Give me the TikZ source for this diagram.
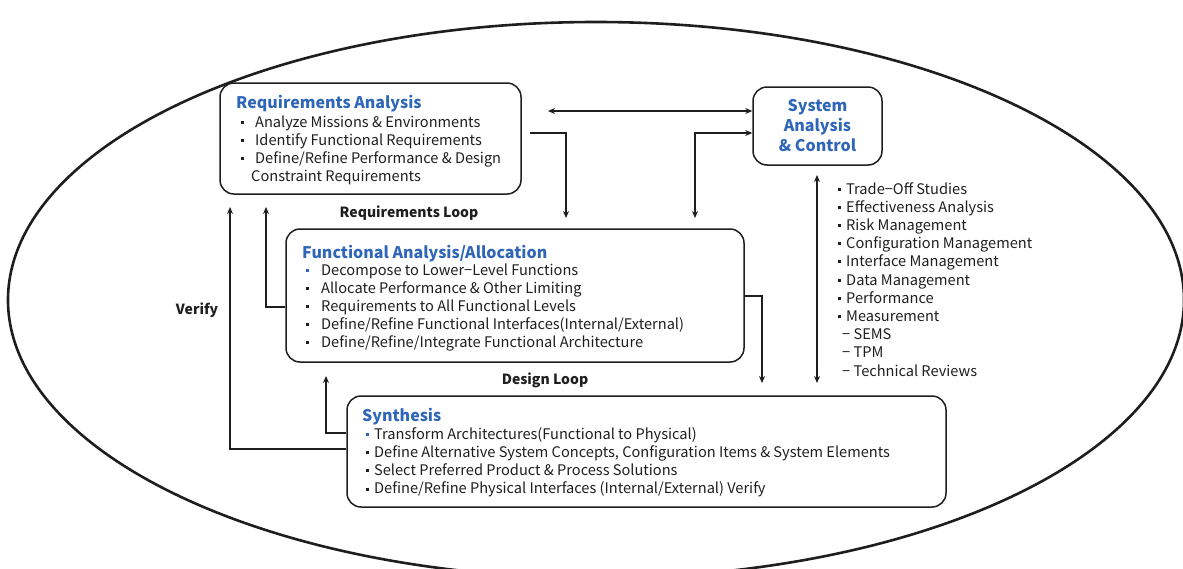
\documentclass[tikz,border=0pt]{standalone}
\usepackage{fontspec}
\setmainfont{Noto Sans CJK KR}
\usetikzlibrary{arrows.meta,calc}

\definecolor{titleblue}{HTML}{2F66B8}
\definecolor{inkgray}{HTML}{1E1E1E}
\newcommand\bsq{\rule[3.4pt]{3pt}{3pt}}
\newcommand\bbsq{\textcolor{titleblue}{\rule[3.4pt]{3pt}{3pt}}}

\tikzset{
  stage/.style={draw=inkgray, line width=1.5pt, rounded corners=14pt, inner sep=0pt},
  heading/.style={font=\fontsize{16}{18}\selectfont\bfseries, text=titleblue, inner sep=0pt, anchor=base west},
  item/.style={font=\fontsize{14.6}{16}\selectfont, text=inkgray, inner sep=0pt, anchor=base west},
  looplabel/.style={font=\fontsize{14}{16}\selectfont\bfseries, text=inkgray, inner sep=0pt, anchor=base},
  flow/.style={draw=inkgray, line width=1.4pt, -{Stealth[length=7pt,width=6pt]}},
  twoway/.style={draw=inkgray, line width=1.4pt, {Stealth[length=7pt,width=6pt]}-{Stealth[length=7pt,width=6pt]}},
}

\begin{document}
\begin{tikzpicture}[x=1pt,y=-1pt]
\useasboundingbox (0,0) rectangle (1183,568);

% outer boundary of the process
\begin{scope}
  \clip (0,0) rectangle (1183,568);
  \draw[inkgray, line width=2.6pt] (596,300) ellipse [x radius=588, y radius=278];
\end{scope}

% the four process stages
\node[stage, minimum width=301pt, minimum height=111pt] (ra) at (370.5,138.5) {};
\node[stage, minimum width=129pt, minimum height=78pt] (sac) at (817.5,126) {};
\node[stage, minimum width=458pt, minimum height=133pt] (fa) at (515,295.5) {};
\node[stage, minimum width=599pt, minimum height=111pt] (sy) at (646.5,451.5) {};

% Requirements Analysis
\node[heading] (rat) at (236,108) {Requirements Analysis};
\foreach \t [count=\i] in {Analyze Missions \& Environments, Identify Functional Requirements, Define/Refine Performance \& Design}
  \node[item] (ra\i) at (241,{127+18*(\i-1)}) {\makebox[14pt][l]{\bsq}\t};
\node[item] (ra4) at (251,181) {Constraint Requirements};

% System Analysis & Control
\node[font=\fontsize{16}{20}\selectfont\bfseries, text=titleblue, align=center, inner sep=0pt] (sact) at (sac.center) {System\\Analysis\\\& Control};

% Functional Analysis/Allocation
\node[heading] (fat) at (302,258) {Functional Analysis/Allocation};
\node[item] (fa1) at (306,275) {\makebox[15pt][l]{\bbsq}Decompose to Lower−Level Functions};
\foreach \t [count=\i from 2] in {Allocate Performance \& Other Limiting, Requirements to All Functional Levels, Define/Refine Functional Interfaces(Internal/External), Define/Refine/Integrate Functional Architecture}
  \node[item] (fa\i) at (306,{275+18.2*(\i-1)}) {\makebox[15pt][l]{\bsq}\t};

% Synthesis
\node[heading] (syt) at (362,421) {Synthesis};
\node[item] (sy1) at (366,439) {\makebox[8pt][l]{\bbsq}Transform Architectures(Functional to Physical)};
\foreach \t [count=\i from 2] in {{Define Alternative System Concepts, Configuration Items \& System Elements}, Select Preferred Product \& Process Solutions, Define/Refine Physical Interfaces (Internal/External) Verify}
  \node[item] (sy\i) at (366,{439+18.3*(\i-1)}) {\makebox[8pt][l]{\bsq}\t};

% System analysis & control activities
\foreach \t [count=\i] in {Trade−Off Studies, Effectiveness Analysis, Risk Management, Configuration Management, Interface Management, Data Management, Performance, Measurement}
  \node[item] (sa\i) at (838,{194+18.2*(\i-1)}) {\makebox[8pt][l]{\bsq}\t};
\foreach \t [count=\i from 9] in {SEMS, TPM, Technical Reviews}
  \node[item] (sa\i) at (842,{194+18.2*(\i-1)}) {− \t};

% loop labels
\node[looplabel] (rloop) at (409,217) {Requirements Loop};
\node[looplabel] (dloop) at (545,384) {Design Loop};
\node[looplabel] (verify) at (197,314) {Verify};

% connector end points
\coordinate (c1) at (548,111);
\coordinate (c2) at (530,133);
\coordinate (c3) at (566,218);
\coordinate (c4) at (695,218);
\coordinate (c5) at (817,175);
\coordinate (c6) at (817,383);
\coordinate (c7) at (762,383);
\coordinate (c8) at (266,207);
\coordinate (c9) at (230,207);
\coordinate (c10) at (326,376);

% connectors
\draw[twoway] (c1) -- (c1 -| sac.west);
\draw[flow] (c2) -| (c3);
\draw[twoway] (c4) |- (c2 -| sac.west);
\draw[twoway] (c5) -- (c6);
\draw[flow] (fa.east |- 0,296) -| (c7);
\draw[flow] (fa.west |- 0,307) -| (c8);
\draw[flow] (sy.west |- 0,433) -| (c10);
\draw[flow] (sy.west |- 0,449) -| (c9);
\end{tikzpicture}
\end{document}
